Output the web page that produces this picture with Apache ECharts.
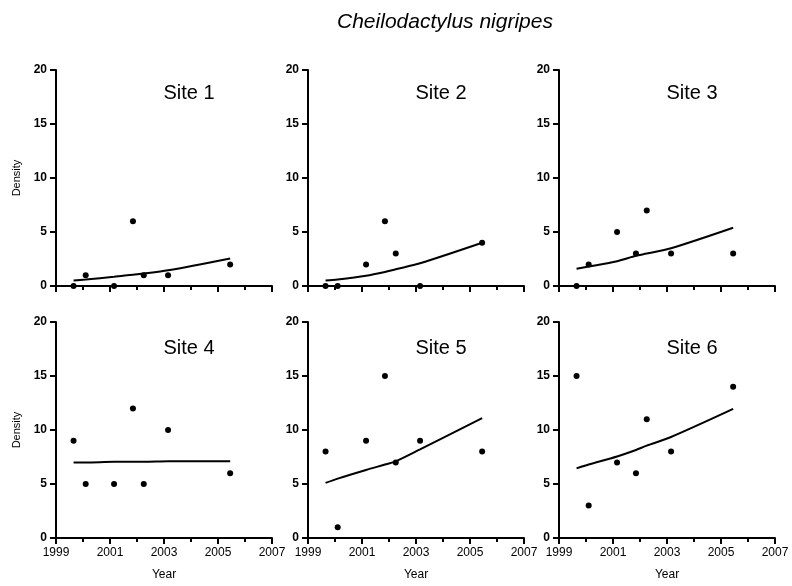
<!DOCTYPE html>
<html><head><meta charset="utf-8">
<script src="https://cdn.jsdelivr.net/npm/echarts@6/dist/echarts.min.js"></script>
<style>html,body{margin:0;padding:0;background:#fff}#c{width:792px;height:586px}</style>
</head><body><div id="c"></div>
<script>
var years = [1999.65, 2000.1, 2001.15, 2001.85, 2002.25, 2003.15, 2005.45];
var siteNames = ['Site 1','Site 2','Site 3','Site 4','Site 5','Site 6'];
var site1 = [0, 1, 0, 6, 1, 1, 2];
var site2 = [0, 0, 2, 6, 3, 0, 4];
var site3 = [0, 2, 5, 3, 7, 3, 3];
var site4 = [9, 5, 5, 12, 5, 10, 6];
var site5 = [8, 1, 9, 15, 7, 9, 8];
var site6 = [15, 3, 7, 6, 11, 8, 14];
var fit1 = [0.5, 0.6, 0.85, 1.05, 1.15, 1.45, 2.55];
var fit2 = [0.5, 0.6, 0.95, 1.3, 1.55, 2.1, 4.0];
var fit3 = [1.6, 1.8, 2.3, 2.8, 3.0, 3.5, 5.4];
var fit4 = [7.0, 7.0, 7.05, 7.05, 7.05, 7.1, 7.1];
var fit5 = [5.1, 5.5, 6.3, 6.8, 7.1, 8.2, 11.1];
var fit6 = [6.45, 6.8, 7.55, 8.15, 8.55, 9.35, 11.95];
var xTicks = [1999, 2001, 2003, 2005, 2007];
var yTicks = [0, 5, 10, 15, 20];

var points = [site1, site2, site3, site4, site5, site6];
var fits = [fit1, fit2, fit3, fit4, fit5, fit6];
var FONT = '"Liberation Sans", Arial, sans-serif';
var lefts = [56, 308, 559];
var tops = [70, 322];
var W = 216, H = 216;

var grids = [], xAxes = [], yAxes = [], series = [], graphics = [];
graphics.push({type:'text', x:445, y:22, style:{text:'Cheilodactylus nigripes', font:'italic 21px ' + FONT, fill:'#000', textAlign:'center', textVerticalAlign:'middle'}});
for (var i = 0; i < 6; i++) {
  var col = i % 3, row = Math.floor(i / 3);
  grids.push({left: lefts[col], top: tops[row], width: W, height: H});
  var axLine = {show:true, lineStyle:{color:'#000', width:2}};
  xAxes.push({
    type:'value', gridIndex:i, min:xTicks[0], max:xTicks[xTicks.length-1], interval:2,
    axisLine: axLine,
    axisTick:{show:true, length:6, lineStyle:{color:'#000', width:2}},
    minorTick:{show:true, splitNumber:2, length:4, lineStyle:{color:'#000', width:2}},
    splitLine:{show:false},
    axisLabel:{show: row === 1, color:'#000', fontFamily:FONT, fontSize:12, margin:9,
      formatter:function(v){ return String(v); }},
    name: row === 1 ? 'Year' : '', nameLocation:'middle', nameGap:31,
    nameTextStyle:{color:'#000', fontFamily:FONT, fontSize:12}
  });
  yAxes.push({
    type:'value', gridIndex:i, min:yTicks[0], max:yTicks[yTicks.length-1], interval:5,
    axisLine: axLine,
    axisTick:{show:true, length:6, lineStyle:{color:'#000', width:2}},
    splitLine:{show:false},
    axisLabel:{color:'#000', fontFamily:FONT, fontSize:12, fontWeight:'bold', margin:9},
    name: col === 0 ? 'Density' : '', nameLocation:'middle', nameGap:34, nameRotate:90,
    nameTextStyle:{color:'#000', fontFamily:FONT, fontSize:11}
  });
  var pts = points[i].map(function(v, k){ return [years[k], v]; });
  var fl = fits[i].map(function(v, k){ return [years[k], v]; });
  series.push({type:'scatter', xAxisIndex:i, yAxisIndex:i, data:pts, symbol:'circle', symbolSize:6, itemStyle:{color:'#000', opacity:1}, z:3, silent:true});
  series.push({type:'line', xAxisIndex:i, yAxisIndex:i, data:fl, showSymbol:false, symbol:'none', smooth:0.3, lineStyle:{color:'#000', width:2}, silent:true});
  graphics.push({type:'text', x: lefts[col] + 133, y: tops[row] + (row === 0 ? 23 : 26), style:{text: siteNames[i], font:'20px ' + FONT, fill:'#000', textAlign:'center', textVerticalAlign:'middle'}});
}

var chart = echarts.init(document.getElementById('c'), null, {renderer:'canvas'});
chart.setOption({
  animation:false,
  backgroundColor:'#fff',
  grid:grids, xAxis:xAxes, yAxis:yAxes, series:series, graphic:graphics
});
</script></body></html>
